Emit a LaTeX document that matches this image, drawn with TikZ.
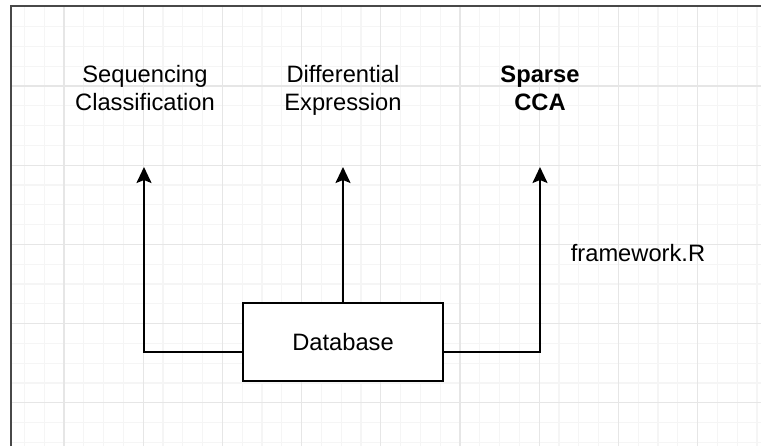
\documentclass[tikz,border=0pt]{standalone}
\usepackage{fontspec}
\setmainfont{Liberation Sans}
\usetikzlibrary{arrows.meta, calc, positioning}

\definecolor{gridminor}{RGB}{245,245,245}
\definecolor{gridmajor}{RGB}{230,230,230}
\definecolor{framegray}{RGB}{72,72,72}

\begin{document}
\begin{tikzpicture}[x=0.5pt, y=-0.5pt,
    >={Stealth[width=7.5pt, length=8pt, inset=1.5pt]},
    lbl/.style={align=center, inner sep=0pt, text depth=3pt,
                font=\fontsize{11.85}{14}\selectfont},
    lblbold/.style={lbl, font=\fontsize{11.85}{14}\selectfont\bfseries},
    dbbox/.style={draw, line width=1pt, fill=white, minimum width=100pt,
                  minimum height=39pt, font=\fontsize{11.85}{14}\selectfont},
    link/.style={->, line width=1pt}]
  \useasboundingbox (0,0) rectangle (761,446);

  % background grid
  \begin{scope}
    \clip (12,7) rectangle (761,446);
    \foreach \k in {-3,...,35}
      \draw[gridminor, line width=0.6pt] ({64+19.8*\k},0) -- ++(0,446);
    \foreach \k in {-4,...,18}
      \draw[gridminor, line width=0.6pt] (0,{86+19.8*\k}) -- ++(761,0);
    \foreach \k in {-1,...,9}
      \draw[gridmajor, line width=0.6pt] ({64+79.2*\k},0) -- ++(0,446);
    \foreach \k in {-1,...,4}
      \draw[gridmajor, line width=0.6pt] (0,{86+79.2*\k}) -- ++(761,0);
  \end{scope}
  \draw[framegray, line width=1pt] (11,446) -- (11,6) -- (761,6);

  % labels
  \node[lbl] (seqcls) at (145,91) {Sequencing\\Classification};
  \node[lbl] (diffexp) at (343,91) {Differential\\Expression};
  \node[lblbold] (scca) at (540,91) {Sparse\\CCA};
  \node[lbl] (fwR) at (638,256) {framework.R};

  \node[dbbox] (db) at (343,342) {Database};

  % arrow tips under the labels
  \coordinate (seqtip) at (144,167);
  \coordinate (difftip) at (343,167);
  \coordinate (sccatip) at (540,167);

  \draw[link] ([yshift=-5pt]db.west) -| (seqtip);
  \draw[link] (db.north) -- (difftip);
  \draw[link] ([yshift=-5pt]db.east) -| (sccatip);
\end{tikzpicture}
\end{document}
